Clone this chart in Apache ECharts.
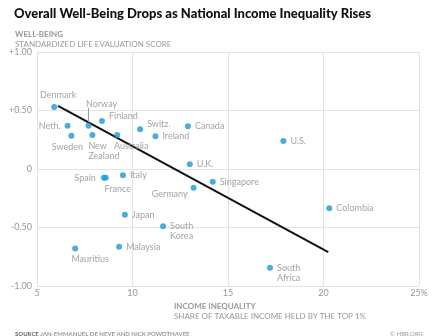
<!DOCTYPE html>
<html><head><meta charset="utf-8">
<script src="https://cdn.jsdelivr.net/npm/echarts@6/dist/echarts.min.js"></script>
<style>html,body{margin:0;padding:0;background:#fff}#c{width:448px;height:336px}</style>
</head><body><div id="c"></div>
<script>
const countries = ["Denmark","Neth.","Sweden","Norway","New\nZealand","Finland","Australia","Switz.","Ireland","Canada","U.K.","U.S.","Spain","France","Italy","Germany","Singapore","Japan","South\nKorea","Malaysia","Mauritius","Colombia","South\nAfrica"];
const inequality = [5.9,6.6,6.8,7.7,7.9,8.4,9.2,10.4,11.2,12.9,13.0,17.9,8.5,8.6,9.5,13.2,14.2,9.6,11.6,9.3,7.0,20.3,17.2];
const wellbeing = [0.53,0.37,0.285,0.37,0.29,0.41,0.29,0.34,0.28,0.365,0.04,0.24,-0.074,-0.074,-0.054,-0.16,-0.11,-0.39,-0.49,-0.665,-0.68,-0.335,-0.845];
const trendX = [6.1,20.25];
const trendY = [0.54,-0.71];
const xTicks = [5,10,15,20,25];
const yTicks = [-1,-0.5,0,0.5,1];

const grey = '#8c8c8c';
const place = {
  "Denmark": {position:'top', distance:4, offset:[4,0]},
  "Neth.": {position:'left', distance:4},
  "Sweden": {position:'bottom', distance:3, offset:[-4,0]},
  "Norway": {position:'top', distance:14, offset:[13,0]},
  "New\nZealand": {position:'bottom', distance:3, offset:[-4,0], align:'left'},
  "Finland": {position:'right', distance:4, offset:[0,-5]},
  "Australia": {position:'bottom', distance:3, offset:[14,0]},
  "Switz.": {position:'right', distance:4, offset:[0,-5]},
  "France": {position:'bottom', distance:3, offset:[12,0]},
  "Spain": {position:'left', distance:5},
  "Germany": {position:'left', distance:3, offset:[0,6]},
  "Mauritius": {position:'bottom', distance:3, offset:[15,0]},
  "South\nKorea": {position:'right', distance:4, offset:[0,5]},
  "South\nAfrica": {position:'right', distance:4, offset:[0,5]}
};
const pts = countries.map((c,i)=>{
  const p = place[c] || {position:'right', distance:4};
  const lab = Object.assign({show:true, formatter:c, lineHeight:10}, p);
  return {name:c, value:[inequality[i], wellbeing[i]], label:lab};
});
const ni = countries.indexOf('Norway');
const leader = [[{coord:[inequality[ni], wellbeing[ni]+0.03]}, {coord:[inequality[ni], wellbeing[ni]+0.15]}]];

const chart = echarts.init(document.getElementById('c'), null, {renderer:'canvas'});
chart.setOption({
  animation:false,
  textStyle:{fontFamily:'Lato'},
  title:[
    {text:'Overall Well-Being Drops as National Income Inequality Rises', left:9, top:2,
     textStyle:{fontFamily:'Lato', fontWeight:900, fontSize:13, color:'#111'}},
    {text:'WELL-BEING', left:10, top:25, textStyle:{fontFamily:'Lato', fontWeight:'bold', fontSize:8, color:'#999'}},
    {text:'STANDARDIZED LIFE EVALUATION SCORE', left:10, top:35, textStyle:{fontFamily:'Lato', fontWeight:'normal', fontSize:8, color:'#999'}},
    {text:'INCOME INEQUALITY', left:169, top:297, textStyle:{fontFamily:'Lato', fontWeight:'bold', fontSize:8, color:'#999'}},
    {text:'SHARE OF TAXABLE INCOME HELD BY THE TOP 1%', left:169, top:307, textStyle:{fontFamily:'Lato', fontWeight:'normal', fontSize:8, color:'#999'}},
    {text:'{b|SOURCE} JAN-EMMANUEL DE NEVE AND NICK POWDTHAVEE', left:10, top:326,
     textStyle:{fontFamily:'Lato', fontSize:6, color:'#999', rich:{b:{fontWeight:'bold', color:'#666', fontSize:6, fontFamily:'Lato'}}}},
    {text:'© HBR.ORG', right:20, top:326, textStyle:{fontFamily:'Lato', fontWeight:'normal', fontSize:6, color:'#999'}}
  ],
  grid:{left:37, right:29, top:52, bottom:50, containLabel:false},
  xAxis:{type:'value', min:xTicks[0], max:xTicks[xTicks.length-1], interval:5,
    axisLine:{show:true, lineStyle:{color:'#e3e3e3'}}, axisTick:{show:false},
    splitLine:{show:true, lineStyle:{color:'#e3e3e3'}},
    axisLabel:{color:'#999', fontSize:9, margin:3, formatter:v=> v===25 ? '25%' : String(v)}},
  yAxis:{type:'value', min:yTicks[0], max:yTicks[yTicks.length-1], interval:0.5,
    axisLine:{show:true, lineStyle:{color:'#e3e3e3'}}, axisTick:{show:false},
    splitLine:{show:true, lineStyle:{color:'#e3e3e3'}},
    axisLabel:{color:'#999', fontSize:9, margin:5, formatter:v=> v===0 ? '0' : (v>0?'+':'') + v.toFixed(2)}},
  series:[
    {type:'scatter', data:pts, symbolSize:6, itemStyle:{color:'#1a9bd2'},
     label:{color:grey, fontSize:9, fontFamily:'Lato'},
     markLine:{silent:true, symbol:'none', label:{show:false},
       lineStyle:{color:'#999', width:1, type:'solid'}, data:leader},
     z:3},
    {type:'line', data:trendX.map((x,i)=>[x,trendY[i]]), symbol:'none',
     lineStyle:{color:'#111', width:2}, z:2}
  ]
});
</script></body></html>
